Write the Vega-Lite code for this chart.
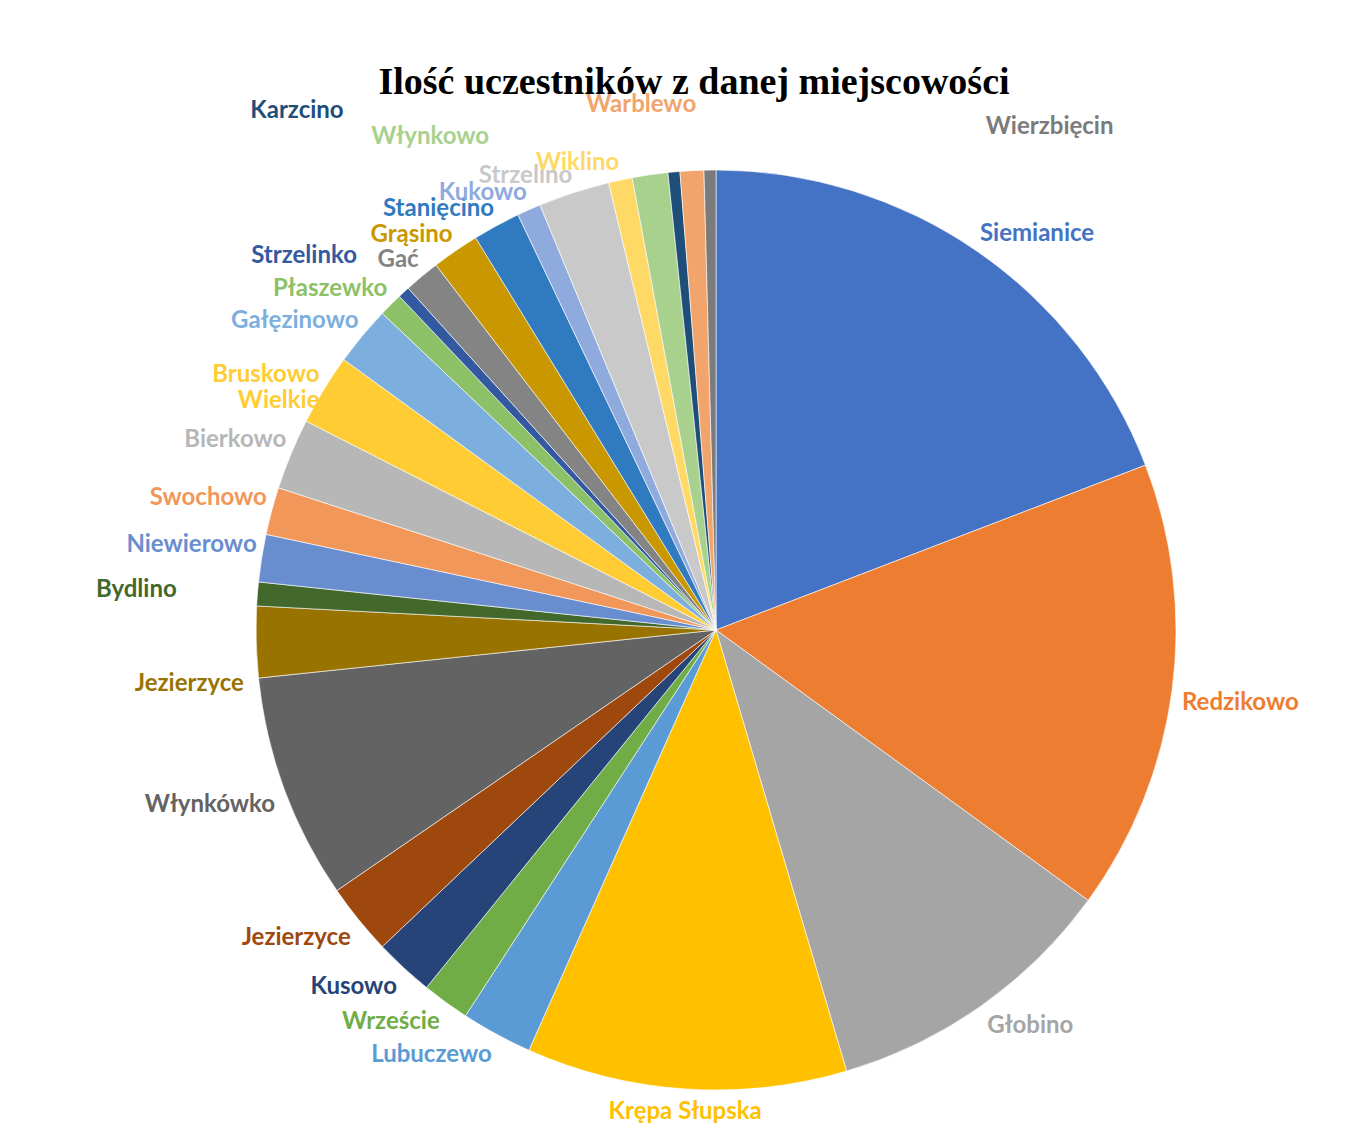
{
  "$schema": "https://vega.github.io/schema/vega-lite/v6.json",
  "width": 1304,
  "height": 1020,
  "autosize": {"type": "none"},
  "padding": {"left": 64, "top": 120, "right": 0, "bottom": 0},
  "background": "white",
  "config": {"view": {"stroke": null}},
  "title": {
    "text": "Ilość uczestników z danej miejscowości",
    "font": "Liberation Serif",
    "fontSize": 38,
    "fontWeight": "bold",
    "color": "#000000",
    "anchor": "middle",
    "dx": -22,
    "offset": -9
  },
  "data": {
    "values": [
      {"idx": 1, "key": "Siemianice", "label": "Siemianice", "count": 46},
      {"idx": 2, "key": "Redzikowo", "label": "Redzikowo", "count": 38},
      {"idx": 3, "key": "Głobino", "label": "Głobino", "count": 25},
      {"idx": 4, "key": "Krępa Słupska", "label": "Krępa Słupska", "count": 27},
      {"idx": 5, "key": "Lubuczewo", "label": "Lubuczewo", "count": 6},
      {"idx": 6, "key": "Wrzeście", "label": "Wrzeście", "count": 4},
      {"idx": 7, "key": "Kusowo", "label": "Kusowo", "count": 5},
      {"idx": 8, "key": "Jezierzyce 1", "label": "Jezierzyce", "count": 6},
      {"idx": 9, "key": "Włynkówko", "label": "Włynkówko", "count": 19},
      {"idx": 10, "key": "Jezierzyce 2", "label": "Jezierzyce", "count": 6},
      {"idx": 11, "key": "Bydlino", "label": "Bydlino", "count": 2},
      {"idx": 12, "key": "Niewierowo", "label": "Niewierowo", "count": 4},
      {"idx": 13, "key": "Swochowo", "label": "Swochowo", "count": 4},
      {"idx": 14, "key": "Bierkowo", "label": "Bierkowo", "count": 6},
      {"idx": 15, "key": "Bruskowo Wielkie", "label": "Bruskowo\nWielkie", "count": 6},
      {"idx": 16, "key": "Gałęzinowo", "label": "Gałęzinowo", "count": 5},
      {"idx": 17, "key": "Płaszewko", "label": "Płaszewko", "count": 2},
      {"idx": 18, "key": "Strzelinko", "label": "Strzelinko", "count": 1},
      {"idx": 19, "key": "Gać", "label": "Gać", "count": 3},
      {"idx": 20, "key": "Grąsino", "label": "Grąsino", "count": 4},
      {"idx": 21, "key": "Stanięcino", "label": "Stanięcino", "count": 4},
      {"idx": 22, "key": "Kukowo", "label": "Kukowo", "count": 2},
      {"idx": 23, "key": "Strzelino", "label": "Strzelino", "count": 6},
      {"idx": 24, "key": "Wiklino", "label": "Wiklino", "count": 2},
      {"idx": 25, "key": "Włynkowo", "label": "Włynkowo", "count": 3},
      {"idx": 26, "key": "Karzcino", "label": "Karzcino", "count": 1},
      {"idx": 27, "key": "Warblewo", "label": "Warblewo", "count": 2},
      {"idx": 28, "key": "Wierzbięcin", "label": "Wierzbięcin", "count": 1}
    ]
  },
  "transform": [
    {"stack": "count", "groupby": [], "sort": [{"field": "idx", "order": "ascending"}], "as": ["s0", "s1"]}
  ],
  "encoding": {
    "color": {
      "field": "key",
      "type": "nominal",
      "legend": null,
      "scale": {
        "domain": ["Siemianice", "Redzikowo", "Głobino", "Krępa Słupska", "Lubuczewo", "Wrzeście", "Kusowo", "Jezierzyce 1", "Włynkówko", "Jezierzyce 2", "Bydlino", "Niewierowo", "Swochowo", "Bierkowo", "Bruskowo Wielkie", "Gałęzinowo", "Płaszewko", "Strzelinko", "Gać", "Grąsino", "Stanięcino", "Kukowo", "Strzelino", "Wiklino", "Włynkowo", "Karzcino", "Warblewo", "Wierzbięcin"],
        "range": ["#4472C4", "#ED7D31", "#A5A5A5", "#FFC000", "#5B9BD5", "#70AD47", "#264478", "#9E480E", "#636363", "#997300", "#43682B", "#698ED0", "#F1975A", "#B7B7B7", "#FFCD33", "#7CAFDD", "#8CC168", "#335AA1", "#848484", "#C99700", "#307AC0", "#8FAADC", "#C9C9C9", "#FFD966", "#A9D18E", "#1F4E79", "#F1A46C", "#7B7B7B"]
      }
    }
  },
  "layer": [
    {
      "mark": {"type": "arc", "outerRadius": 460, "stroke": "#ffffff", "strokeWidth": 0.6},
      "encoding": {
        "theta": {"field": "s0", "type": "quantitative"},
        "theta2": {"field": "s1"}
      }
    },
    {
      "mark": {"type": "text", "radius": 466, "align": "left", "baseline": "bottom", "font": "Lato", "fontWeight": "bold", "fontSize": 24, "lineBreak": "\n"},
      "encoding": {
        "theta": {"field": "count", "type": "quantitative", "stack": true},
        "order": {"field": "idx", "type": "quantitative", "sort": "ascending"},
        "text": {"condition": {"test": "indexof(['Siemianice'], datum.key) >= 0", "field": "label", "type": "nominal"}, "value": ""}
      }
    },
    {
      "mark": {"type": "text", "radius": 470, "align": "left", "baseline": "top", "font": "Lato", "fontWeight": "bold", "fontSize": 24, "lineBreak": "\n"},
      "encoding": {
        "theta": {"field": "count", "type": "quantitative", "stack": true},
        "order": {"field": "idx", "type": "quantitative", "sort": "ascending"},
        "text": {"condition": {"test": "indexof(['Redzikowo','Głobino'], datum.key) >= 0", "field": "label", "type": "nominal"}, "value": ""}
      }
    },
    {
      "mark": {"type": "text", "radius": 471, "align": "center", "baseline": "top", "font": "Lato", "fontWeight": "bold", "fontSize": 24, "lineBreak": "\n"},
      "encoding": {
        "theta": {"field": "count", "type": "quantitative", "stack": true},
        "order": {"field": "idx", "type": "quantitative", "sort": "ascending"},
        "text": {"condition": {"test": "indexof(['Krępa Słupska'], datum.key) >= 0", "field": "label", "type": "nominal"}, "value": ""}
      }
    },
    {
      "mark": {"type": "text", "radius": 470, "align": "right", "baseline": "top", "font": "Lato", "fontWeight": "bold", "fontSize": 24, "lineBreak": "\n"},
      "encoding": {
        "theta": {"field": "count", "type": "quantitative", "stack": true},
        "order": {"field": "idx", "type": "quantitative", "sort": "ascending"},
        "text": {"condition": {"test": "indexof(['Lubuczewo','Wrzeście','Kusowo','Jezierzyce 1','Włynkówko'], datum.key) >= 0", "field": "label", "type": "nominal"}, "value": ""}
      }
    },
    {
      "mark": {"type": "text", "radius": 465, "align": "right", "baseline": "bottom", "font": "Lato", "fontWeight": "bold", "fontSize": 24, "lineBreak": "\n"},
      "encoding": {
        "theta": {"field": "count", "type": "quantitative", "stack": true},
        "order": {"field": "idx", "type": "quantitative", "sort": "ascending"},
        "text": {"condition": {"test": "indexof(['Niewierowo','Swochowo','Bierkowo','Bruskowo Wielkie','Gałęzinowo','Płaszewko','Gać','Grąsino','Stanięcino','Kukowo','Strzelino','Wiklino'], datum.key) >= 0", "field": "label", "type": "nominal"}, "value": ""}
      }
    },
    {
      "transform": [{"filter": "datum.key === 'Jezierzyce 2'"}],
      "mark": {"type": "text", "radius": 474, "thetaOffset": 0.0157, "align": "right", "baseline": "top", "font": "Lato", "fontWeight": "bold", "fontSize": 24},
      "encoding": {"theta": {"field": "s0", "type": "quantitative"}, "text": {"field": "label", "type": "nominal"}}
    },
    {
      "transform": [{"filter": "datum.key === 'Bydlino'"}],
      "mark": {"type": "text", "radius": 540, "thetaOffset": 0.0, "align": "right", "baseline": "bottom", "font": "Lato", "fontWeight": "bold", "fontSize": 24},
      "encoding": {"theta": {"field": "s0", "type": "quantitative"}, "text": {"field": "label", "type": "nominal"}}
    },
    {
      "transform": [{"filter": "datum.key === 'Strzelinko'"}],
      "mark": {"type": "text", "radius": 510, "thetaOffset": -0.0218, "align": "right", "baseline": "bottom", "font": "Lato", "fontWeight": "bold", "fontSize": 24},
      "encoding": {"theta": {"field": "s0", "type": "quantitative"}, "text": {"field": "label", "type": "nominal"}}
    },
    {
      "transform": [{"filter": "datum.key === 'Włynkowo'"}],
      "mark": {"type": "text", "radius": 532, "thetaOffset": -0.2574, "align": "right", "baseline": "bottom", "font": "Lato", "fontWeight": "bold", "fontSize": 24},
      "encoding": {"theta": {"field": "s0", "type": "quantitative"}, "text": {"field": "label", "type": "nominal"}}
    },
    {
      "transform": [{"filter": "datum.key === 'Karzcino'"}],
      "mark": {"type": "text", "radius": 629, "thetaOffset": -0.5288, "align": "right", "baseline": "bottom", "font": "Lato", "fontWeight": "bold", "fontSize": 24},
      "encoding": {"theta": {"field": "s0", "type": "quantitative"}, "text": {"field": "label", "type": "nominal"}}
    },
    {
      "transform": [{"filter": "datum.key === 'Warblewo'"}],
      "mark": {"type": "text", "radius": 518, "thetaOffset": -0.0663, "align": "center", "baseline": "bottom", "font": "Lato", "fontWeight": "bold", "fontSize": 24},
      "encoding": {"theta": {"field": "s0", "type": "quantitative"}, "text": {"field": "label", "type": "nominal"}}
    },
    {
      "transform": [{"filter": "datum.key === 'Wierzbięcin'"}],
      "mark": {"type": "text", "radius": 560, "thetaOffset": 0.5288, "align": "left", "baseline": "bottom", "font": "Lato", "fontWeight": "bold", "fontSize": 24},
      "encoding": {"theta": {"field": "s0", "type": "quantitative"}, "text": {"field": "label", "type": "nominal"}}
    }
  ]
}
